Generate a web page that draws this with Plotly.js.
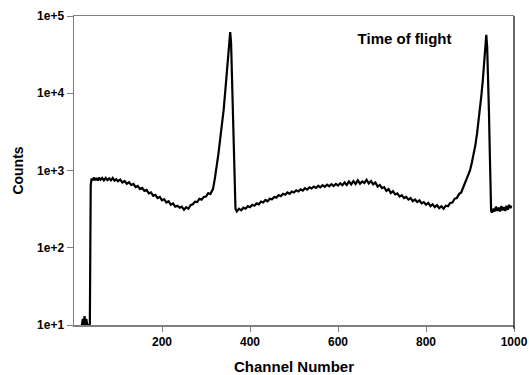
<!DOCTYPE html>
<html>
<head>
<meta charset="utf-8">
<script src="https://cdn.plot.ly/plotly-3.0.1.min.js"></script>
<style>html,body{margin:0;padding:0;background:#fff;}#chart{width:529px;height:375px;}</style>
</head>
<body>
<div id="chart"></div>
<script>
var channels = [16,18,20,22,24,26,28,30,33,36,
38,40,42,45,48,51,54,57,60,64,68,72,76,80,84,88,92,96,100,105,110,115,120,125,130,135,140,145,150,155,160,165,170,175,180,185,190,195,200,205,210,215,220,225,230,235,240,245,250,255,260,265,270,275,280,285,290,295,300,305,310,313,316,320,324,328,332,336,340,344,348,351,353,355,357,359,361,363,365,367,370,375,380,385,390,395,400,405,410,415,420,425,430,435,440,445,450,455,460,465,470,475,480,485,490,495,500,505,510,515,520,525,530,535,540,545,550,555,560,565,570,575,580,585,590,595,600,605,610,615,620,625,630,635,640,645,650,655,660,665,670,675,680,685,690,695,700,705,710,715,720,725,730,735,740,745,750,755,760,765,770,775,780,785,790,795,800,805,810,815,820,825,830,835,840,845,850,855,860,865,870,875,880,885,890,895,900,904,908,912,916,920,923,926,929,932,934,936,937,939,941,943,945,947,948,950,953,956,959,962,965,968,971,974,977,980,983,986,989,992,994];
var counts = [10,10,12,10,13,10,12,10,10,10,
640,790,740,810,750,800,740,810,760,800,745,805,750,790,745,800,740,770,725,765,700,730,675,705,650,670,610,630,575,595,545,560,505,520,470,485,440,455,410,425,385,400,360,375,340,350,330,340,310,335,320,355,365,395,390,430,420,455,460,510,495,545,580,780,1050,1600,2500,3800,6000,11000,21000,36000,48000,62000,45000,15000,5000,1500,500,320,295,320,305,330,320,345,335,360,350,375,365,395,385,415,400,430,425,455,445,480,465,500,485,520,500,535,520,555,535,570,550,590,565,605,585,620,595,635,605,645,615,655,625,665,630,670,640,685,645,700,650,720,660,730,670,745,675,720,690,760,680,730,660,700,620,650,590,610,545,575,510,540,490,505,460,480,440,455,420,440,400,420,390,410,375,390,360,380,345,365,335,355,325,345,320,350,345,380,385,430,440,495,520,610,690,830,1000,1250,1600,2100,3000,4500,6500,9500,14500,23000,33000,50000,57000,40000,20000,6000,1700,500,300,285,320,295,340,300,330,295,345,305,335,300,350,310,360,325,350];
var yTickVals = [10,100,1000,10000,100000];
var yTickText = ['1e+1','1e+2','1e+3','1e+4','1e+5'];
var xTickVals = [200,400,600,800,1000];
var xTickText = ['200','400','600','800','1000'];

var fontFam = '"Liberation Sans", Arial, sans-serif';
var trace = {
  x: channels, y: counts, type: 'scatter', mode: 'lines',
  line: {color: '#000000', width: 2.2}, hoverinfo: 'skip'
};
var layout = {
  width: 529, height: 375,
  margin: {l: 74, r: 15, t: 16, b: 50},
  paper_bgcolor: '#ffffff', plot_bgcolor: '#ffffff',
  showlegend: false,
  title: {text: 'Time of flight', x: 0.676, xref: 'container', xanchor: 'left', y: 0.896, yref: 'container', yanchor: 'middle',
          font: {family: fontFam, size: 15, color: '#000', weight: 'bold'}},
  xaxis: {
    range: [0, 1000], tickmode: 'array', tickvals: xTickVals, ticktext: xTickText,
    showgrid: false, zeroline: false, showline: true, linecolor: '#808080', linewidth: 1.5, mirror: true,
    ticks: 'outside', ticklen: 5, tickcolor: '#808080', tickwidth: 1,
    tickfont: {family: fontFam, size: 12, color: '#000', weight: 'bold'},
    title: {text: 'Channel Number', standoff: 16, font: {family: fontFam, size: 15, color: '#000', weight: 'bold'}}
  },
  yaxis: {
    type: 'log', range: [1, 5], tickmode: 'array', tickvals: yTickVals, ticktext: yTickText,
    showgrid: false, zeroline: false, showline: true, linecolor: '#808080', linewidth: 1.5,
    ticks: 'outside', ticklen: 6, tickcolor: '#808080', tickwidth: 1,
    tickfont: {family: fontFam, size: 12, color: '#000', weight: 'bold'},
    title: {text: 'Counts', standoff: 10, font: {family: fontFam, size: 14, color: '#000', weight: 'bold'}}
  },
  shapes: [{type: 'line', xref: 'paper', yref: 'paper', x0: 1, x1: 1, y0: -0.012, y1: 1, line: {color: '#000', width: 1.2}}]
};
Plotly.newPlot('chart', [trace], layout, {displayModeBar: false, staticPlot: true});
</script>
</body>
</html>
